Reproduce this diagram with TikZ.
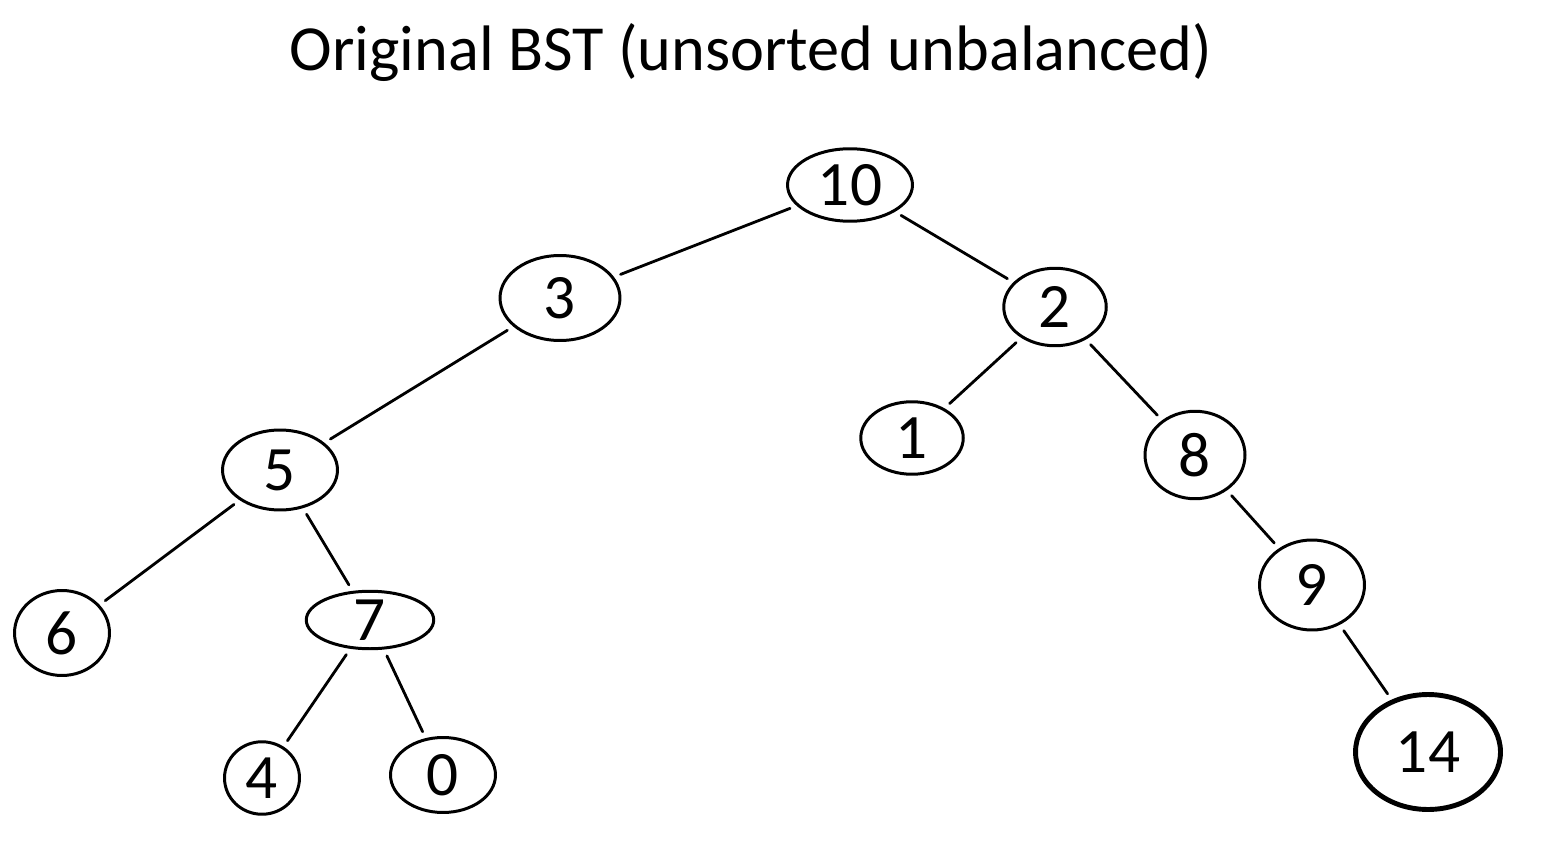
\documentclass[tikz,border=0pt]{standalone}
\usepackage{fontspec}
\setmainfont{Carlito}
\usetikzlibrary{shapes.geometric}
\begin{document}
\begin{tikzpicture}[x=0.02cm,y=-0.02cm,
  tnode/.style={draw=black,ellipse,line width=1.7pt,inner sep=0pt,font=\fontsize{36}{36}\selectfont},
  tedge/.style={draw=black,line width=1.6pt,line cap=round,shorten <=4pt,shorten >=4pt}]
\useasboundingbox (0,0) rectangle (1551,844);
\node[font=\fontsize{36.6}{37}\selectfont] (title) at (751,53) {Original BST (unsorted unbalanced)};
\node[tnode,minimum width=2.5cm,minimum height=1.45cm] (n10) at (850,185) {10};
\node[tnode,minimum width=2.4cm,minimum height=1.7cm] (n3) at (560,298) {3};
\node[tnode,minimum width=2.05cm,minimum height=1.55cm] (n2) at (1055,307) {2};
\node[tnode,minimum width=2.05cm,minimum height=1.45cm] (n1) at (912,438) {1};
\node[tnode,minimum width=2.0cm,minimum height=1.75cm] (n8) at (1195,455) {8};
\node[tnode,minimum width=2.3cm,minimum height=1.6cm] (n5) at (280,470) {5};
\node[tnode,minimum width=2.1cm,minimum height=1.8cm] (n9) at (1312,585) {9};
\node[tnode,minimum width=1.9cm,minimum height=1.7cm] (n6) at (62,633) {6};
\node[tnode,minimum width=2.55cm,minimum height=1.15cm] (n7) at (370,620) {7};
\node[tnode,minimum width=1.5cm,minimum height=1.45cm] (n4) at (262,778) {4};
\node[tnode,minimum width=2.1cm,minimum height=1.5cm] (n0) at (443,775) {0};
\node[tnode,line width=2.8pt,minimum width=2.9cm,minimum height=2.3cm] (n14) at (1428,752) {14};
\draw[tedge] (n10) -- (n3);
\draw[tedge] (n10) -- (n2);
\draw[tedge] (n3) -- (n5);
\draw[tedge] (n2) -- (n1);
\draw[tedge] (n2) -- (n8);
\draw[tedge] (n5) -- (n6);
\draw[tedge] (n5) -- (n7);
\draw[tedge] (n8) -- (n9);
\draw[tedge] (n9) -- (n14);
\draw[tedge] (n7) -- (n4);
\draw[tedge] (n7) -- (n0);
\end{tikzpicture}
\end{document}
